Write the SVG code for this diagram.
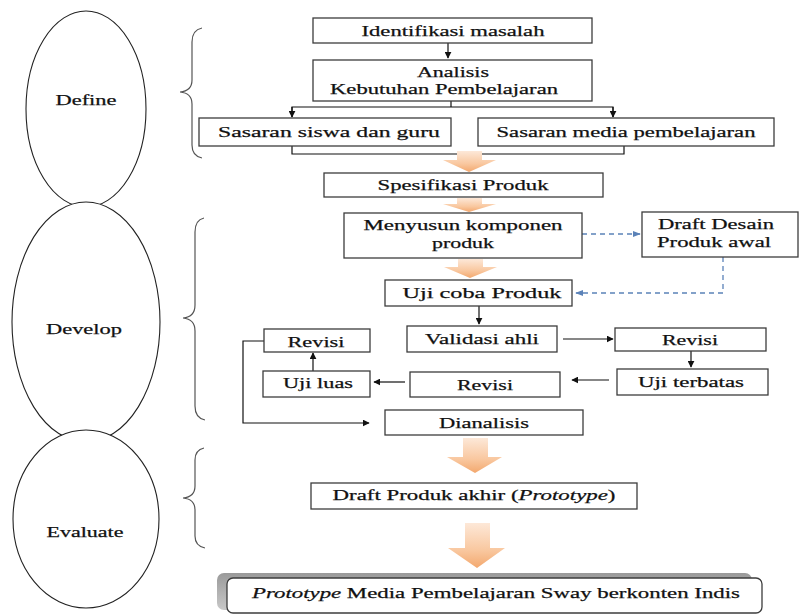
<svg xmlns="http://www.w3.org/2000/svg" width="800" height="615" viewBox="0 0 800 615">
<defs>
<style>
text{font-family:"Liberation Serif","Times New Roman",serif;font-size:15.5px;fill:#111;stroke:#111;stroke-width:0.25}
.c{text-anchor:middle}
.b{fill:#fff;stroke:#3c3c3c;stroke-width:1.3}
.e{fill:#fff;stroke:#222;stroke-width:1.1}
.br{fill:none;stroke:#555;stroke-width:1.2}
.ln{fill:none;stroke:#111;stroke-width:1.2}
.ds{fill:none;stroke:#5b82b8;stroke-width:1.3;stroke-dasharray:5,4}
.oa{fill:url(#og);stroke:none}
</style>
<linearGradient id="og" x1="0" y1="0" x2="0" y2="1">
<stop offset="0" stop-color="#fde8d8"/>
<stop offset="0.6" stop-color="#f9c8a0"/>
<stop offset="1" stop-color="#f3a86e"/>
</linearGradient>
<linearGradient id="sg" x1="0" y1="0" x2="0" y2="1">
<stop offset="0" stop-color="#9a9a9a"/>
<stop offset="1" stop-color="#c8c8c8"/>
</linearGradient>
<marker id="ah" viewBox="0 0 10 10" refX="9" refY="5" markerWidth="7" markerHeight="7" orient="auto-start-reverse" markerUnits="userSpaceOnUse">
<path d="M0,0 L10,5 L0,10 z" fill="#111"/>
</marker>
<marker id="bh" viewBox="0 0 10 10" refX="9" refY="5" markerWidth="8" markerHeight="8" orient="auto" markerUnits="userSpaceOnUse">
<path d="M0,1 L10,5 L0,9 z" fill="#5b82b8"/>
</marker>
</defs>

<g id="phases">
<g id="define"><ellipse class="e" cx="86" cy="109" rx="60" ry="98"/><text class="c" x="86" y="105" textLength="61" lengthAdjust="spacingAndGlyphs">Define</text></g>
<g id="develop"><ellipse class="e" cx="86" cy="322" rx="74" ry="120"/><text class="c" x="84" y="334" textLength="76" lengthAdjust="spacingAndGlyphs">Develop</text></g>
<g id="evaluate"><ellipse class="e" cx="86" cy="519" rx="73" ry="89"/><text class="c" x="85" y="537" textLength="77" lengthAdjust="spacingAndGlyphs">Evaluate</text></g>
</g>

<g id="braces">
<path class="br" d="M202,28 Q192,30 192,42 L192,80 Q192,91 180,92 Q192,93 192,104 L192,145 Q192,156 202,158"/>
<path class="br" d="M204,218 Q195,220 195,232 L195,305 Q195,317 183,318 Q195,319 195,331 L195,406 Q195,418 205,420"/>
<path class="br" d="M204,448 Q195,450 195,460 L195,486 Q195,497 183,498 Q195,499 195,510 L195,536 Q195,546 205,548"/>
</g>

<g id="connectors">
<line class="ln" x1="448" y1="43" x2="448" y2="58" marker-end="url(#ah)"/>
<polyline class="ln" points="451,101 451,107"/>
<polyline class="ln" points="292,117 292,107 613,107 613,117"/>
<line class="ln" x1="292" y1="107" x2="292" y2="117" marker-end="url(#ah)"/>
<line class="ln" x1="613" y1="107" x2="613" y2="117" marker-end="url(#ah)"/>
<polyline class="ln" points="292,146 292,154 624,154 624,146"/>
<line class="ds" x1="582" y1="234" x2="640" y2="234" marker-end="url(#bh)"/>
<polyline class="ds" points="723,257 723,293 576,293" marker-end="url(#bh)"/>
<line class="ln" x1="479" y1="306" x2="479" y2="324" marker-end="url(#ah)"/>
<line class="ln" x1="563" y1="339" x2="613" y2="339" marker-end="url(#ah)"/>
<line class="ln" x1="691" y1="351" x2="691" y2="367" marker-end="url(#ah)"/>
<line class="ln" x1="609" y1="380" x2="572" y2="380" marker-end="url(#ah)"/>
<line class="ln" x1="405" y1="382" x2="374" y2="382" marker-end="url(#ah)"/>
<line class="ln" x1="313" y1="371" x2="313" y2="353" marker-end="url(#ah)"/>
<polyline class="ln" points="264,341 243,341 243,423 369,423" marker-end="url(#ah)"/>
</g>

<g id="block-arrows">
<path class="oa" d="M457,151 H482 V160 H496 L469,172 L443,160 H457 Z"/>
<path class="oa" d="M457,198 H482 V204 H496 L469,212 L443,204 H457 Z"/>
<path class="oa" d="M458,259 H483 V267 H497 L470,278 L444,267 H458 Z"/>
<path class="oa" d="M463,438 H488 V457 H502 L475,473 L447,457 H463 Z"/>
<path class="oa" d="M465,523 H490 V548 H505 L477,568 L448,548 H465 Z"/>
</g>

<g id="n1"><rect class="b" x="313" y="18" width="279" height="25"/><text class="c" x="453" y="36" textLength="183" lengthAdjust="spacingAndGlyphs">Identifikasi masalah</text></g>
<g id="n2"><rect class="b" x="313" y="60" width="279" height="41"/><text class="c" x="453" y="77" textLength="72" lengthAdjust="spacingAndGlyphs">Analisis</text><text class="c" x="444" y="94" textLength="228" lengthAdjust="spacingAndGlyphs">Kebutuhan Pembelajaran</text></g>
<g id="n3"><rect class="b" x="199" y="118" width="252" height="28"/><text class="c" x="329" y="137" textLength="222" lengthAdjust="spacingAndGlyphs">Sasaran siswa dan guru</text></g>
<g id="n4"><rect class="b" x="478" y="118" width="296" height="28"/><text class="c" x="626" y="137" textLength="259" lengthAdjust="spacingAndGlyphs">Sasaran media pembelajaran</text></g>
<g id="n5"><rect class="b" x="324" y="173" width="279" height="24"/><text class="c" x="463" y="190" textLength="171" lengthAdjust="spacingAndGlyphs">Spesifikasi Produk</text></g>
<g id="n6"><rect class="b" x="344" y="213" width="238" height="45"/><text class="c" x="463" y="230" textLength="199" lengthAdjust="spacingAndGlyphs">Menyusun komponen</text><text class="c" x="463" y="248" textLength="62" lengthAdjust="spacingAndGlyphs">produk</text></g>
<g id="n7"><rect class="b" x="642" y="212" width="156" height="45"/><text x="658" y="229" textLength="116" lengthAdjust="spacingAndGlyphs">Draft Desain</text><text x="657" y="247" textLength="114" lengthAdjust="spacingAndGlyphs">Produk awal</text></g>
<g id="n8"><rect class="b" x="385" y="280" width="187" height="26"/><text class="c" x="482" y="298" textLength="159" lengthAdjust="spacingAndGlyphs">Uji coba Produk</text></g>
<g id="n9"><rect class="b" x="407" y="326" width="150" height="26"/><text class="c" x="482" y="344" textLength="114" lengthAdjust="spacingAndGlyphs">Validasi ahli</text></g>
<g id="n10"><rect class="b" x="615" y="328" width="151" height="23"/><text class="c" x="690" y="345" textLength="56" lengthAdjust="spacingAndGlyphs">Revisi</text></g>
<g id="n11"><rect class="b" x="617" y="369" width="151" height="26"/><text class="c" x="691" y="387" textLength="106" lengthAdjust="spacingAndGlyphs">Uji terbatas</text></g>
<g id="n12"><rect class="b" x="410" y="372" width="150" height="25"/><text class="c" x="485" y="390" textLength="56" lengthAdjust="spacingAndGlyphs">Revisi</text></g>
<g id="n13"><rect class="b" x="263" y="371" width="107" height="26"/><text class="c" x="318" y="388" textLength="70" lengthAdjust="spacingAndGlyphs">Uji luas</text></g>
<g id="n14"><rect class="b" x="264" y="329" width="106" height="23"/><text class="c" x="316" y="347" textLength="57" lengthAdjust="spacingAndGlyphs">Revisi</text></g>
<g id="n15"><rect class="b" x="385" y="410" width="198" height="25"/><text class="c" x="484" y="428" textLength="90" lengthAdjust="spacingAndGlyphs">Dianalisis</text></g>
<g id="n16"><rect class="b" x="311" y="483" width="326" height="26"/><text class="c" x="474" y="500" textLength="283" lengthAdjust="spacingAndGlyphs">Draft Produk akhir (<tspan font-style="italic">Prototype</tspan>)</text></g>
<g id="n17"><rect x="217" y="573" width="535" height="37" rx="7" fill="url(#sg)"/><rect class="b" x="227" y="578" width="535" height="35" rx="6"/><text class="c" x="496" y="598" textLength="488" lengthAdjust="spacingAndGlyphs"><tspan font-style="italic">Prototype</tspan> Media Pembelajaran Sway berkonten Indis</text></g>
</svg>
